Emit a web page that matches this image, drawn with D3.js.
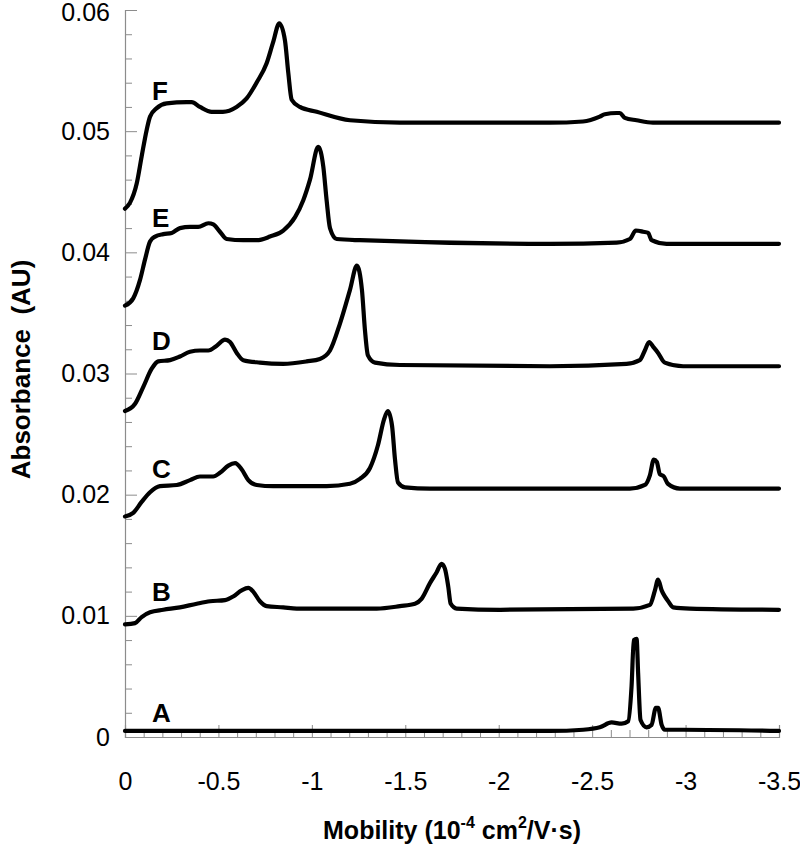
<!DOCTYPE html>
<html>
<head>
<meta charset="utf-8">
<script src="https://cdn.jsdelivr.net/npm/d3@7"></script>
<style>
  html, body { margin: 0; padding: 0; background: #fff; }
  text { font-family: "Liberation Sans", Arial, sans-serif; }
</style>
</head>
<body>
<div id="chart"></div>
<script>
// electropherograms, [mobility (10^-4 cm2/V.s), absorbance (AU)]
const traceA = [
  [0, 0.0005], [-0.5, 0.0005], [-1.0, 0.0005], [-1.5, 0.0005], [-2.0, 0.0005], [-2.274, 0.0005],
  [-2.452, 0.0006], [-2.541, 0.0008], [-2.604, 0.0012], [-2.658, 0.0011], [-2.693, 0.0013],
  [-2.711, 0.0042], [-2.723, 0.0080], [-2.738, 0.0081], [-2.746, 0.0053], [-2.759, 0.0014],
  [-2.791, 0.0008], [-2.818, 0.0010], [-2.841, 0.0024], [-2.853, 0.0024], [-2.872, 0.0010],
  [-2.889, 0.0006], [-2.987, 0.0006], [-3.5, 0.0005]
]
const traceB = [
  [0, 0.0093], [-0.054, 0.0094], [-0.089, 0.0099], [-0.134, 0.0103], [-0.205, 0.0105],
  [-0.294, 0.0107], [-0.384, 0.0110], [-0.455, 0.0112], [-0.535, 0.0113], [-0.579, 0.0116],
  [-0.624, 0.0121], [-0.660, 0.0123], [-0.686, 0.0120], [-0.722, 0.0112], [-0.758, 0.0108],
  [-0.847, 0.0107], [-0.919, 0.0106], [-1.150, 0.0106], [-1.347, 0.0106], [-1.471, 0.0108],
  [-1.552, 0.0110], [-1.587, 0.0114], [-1.632, 0.0127], [-1.668, 0.0136], [-1.694, 0.0143],
  [-1.712, 0.0139], [-1.730, 0.0124], [-1.743, 0.0110], [-1.775, 0.0106], [-2.006, 0.0105],
  [-2.720, 0.0106], [-2.809, 0.0109], [-2.836, 0.0121], [-2.853, 0.0130], [-2.872, 0.0121],
  [-2.889, 0.0116], [-2.907, 0.0112], [-2.934, 0.0107], [-3.023, 0.0106], [-3.5, 0.0105]
]
const traceC = [
  [0, 0.0182], [-0.044, 0.0185], [-0.089, 0.0194], [-0.134, 0.0202], [-0.187, 0.0207],
  [-0.277, 0.0208], [-0.348, 0.0212], [-0.401, 0.0215], [-0.472, 0.0215], [-0.508, 0.0218],
  [-0.553, 0.0224], [-0.589, 0.0226], [-0.624, 0.0221], [-0.660, 0.0212], [-0.705, 0.0208],
  [-0.793, 0.0207], [-1.079, 0.0207], [-1.204, 0.0209], [-1.257, 0.0213], [-1.311, 0.0222],
  [-1.354, 0.0241], [-1.386, 0.0262], [-1.407, 0.0269], [-1.429, 0.0257], [-1.445, 0.0229],
  [-1.461, 0.0210], [-1.498, 0.0206], [-1.632, 0.0205], [-2.274, 0.0205], [-2.702, 0.0205],
  [-2.782, 0.0208], [-2.809, 0.0216], [-2.830, 0.0229], [-2.846, 0.0227], [-2.862, 0.0217],
  [-2.884, 0.0215], [-2.905, 0.0209], [-2.970, 0.0205], [-3.5, 0.0205]
]
const traceD = [
  [0, 0.0269], [-0.054, 0.0275], [-0.098, 0.0289], [-0.143, 0.0304], [-0.178, 0.0310],
  [-0.241, 0.0311], [-0.294, 0.0314], [-0.348, 0.0318], [-0.401, 0.0319], [-0.446, 0.0319],
  [-0.491, 0.0323], [-0.535, 0.0328], [-0.562, 0.0326], [-0.598, 0.0317], [-0.633, 0.0311],
  [-0.722, 0.0309], [-0.847, 0.0308], [-0.972, 0.0310], [-1.043, 0.0312], [-1.097, 0.0319],
  [-1.150, 0.0341], [-1.204, 0.0369], [-1.241, 0.0389], [-1.268, 0.0369], [-1.284, 0.0336],
  [-1.300, 0.0315], [-1.338, 0.0309], [-1.471, 0.0307], [-2.274, 0.0306], [-2.684, 0.0308],
  [-2.755, 0.0311], [-2.782, 0.0319], [-2.805, 0.0326], [-2.827, 0.0322], [-2.853, 0.0317],
  [-2.889, 0.0309], [-2.987, 0.0306], [-3.5, 0.0306]
]
const traceE = [
  [0, 0.0356], [-0.044, 0.0362], [-0.080, 0.0377], [-0.107, 0.0394], [-0.134, 0.0409],
  [-0.161, 0.0413], [-0.205, 0.0415], [-0.250, 0.0416], [-0.294, 0.0420], [-0.348, 0.0421],
  [-0.392, 0.0421], [-0.446, 0.0424], [-0.473, 0.0423], [-0.508, 0.0417], [-0.544, 0.0411],
  [-0.633, 0.0410], [-0.705, 0.0410], [-0.776, 0.0413], [-0.847, 0.0418], [-0.910, 0.0429],
  [-0.954, 0.0443], [-0.990, 0.0460], [-1.034, 0.0487], [-1.061, 0.0471], [-1.079, 0.0443],
  [-1.097, 0.0420], [-1.133, 0.0411], [-1.257, 0.0410], [-2.274, 0.0407], [-2.631, 0.0408],
  [-2.702, 0.0411], [-2.734, 0.0418], [-2.773, 0.0417], [-2.800, 0.0416], [-2.818, 0.0410],
  [-2.898, 0.0407], [-3.5, 0.0407]
]
const traceF = [
  [0, 0.0436], [-0.027, 0.0441], [-0.063, 0.0457], [-0.089, 0.0479], [-0.116, 0.0501],
  [-0.134, 0.0512], [-0.170, 0.0519], [-0.223, 0.0523], [-0.330, 0.0524], [-0.357, 0.0524],
  [-0.401, 0.0520], [-0.464, 0.0516], [-0.524, 0.0516], [-0.597, 0.0520], [-0.651, 0.0527],
  [-0.704, 0.0540], [-0.758, 0.0556], [-0.792, 0.0573], [-0.826, 0.0589], [-0.856, 0.0575],
  [-0.874, 0.0548], [-0.892, 0.0526], [-0.936, 0.0520], [-1.026, 0.0516], [-1.204, 0.0509],
  [-1.471, 0.0507], [-2.006, 0.0507], [-2.274, 0.0507], [-2.451, 0.0508], [-2.541, 0.0512],
  [-2.568, 0.0514], [-2.631, 0.0515], [-2.648, 0.0515], [-2.675, 0.0511], [-2.738, 0.0509],
  [-2.825, 0.0507], [-3.5, 0.0507]
]
const traces = [traceA, traceB, traceC, traceD, traceE, traceF]

// trace letters, placed at [mobility, absorbance] of the text baseline
const labelNames = ['A', 'B', 'C', 'D', 'E', 'F']
const labelPos = [
  [-0.145, 0.0012], [-0.145, 0.0112], [-0.145, 0.0214],
  [-0.145, 0.0319], [-0.145, 0.0421], [-0.145, 0.0526]
]

const xTicks = [0, -0.5, -1, -1.5, -2, -2.5, -3, -3.5]
const xTickLabels = ['0', '-0.5', '-1', '-1.5', '-2', '-2.5', '-3', '-3.5']
const yTicks = [0, 0.01, 0.02, 0.03, 0.04, 0.05, 0.06]
const yTickLabels = ['0', '0.01', '0.02', '0.03', '0.04', '0.05', '0.06']

const width = 800
const height = 847
const margin = { left: 125, right: 21, top: 10, bottom: 110 }
const axisColor = '#8c8c8c'

const svg = d3.select('#chart')
  .append('svg')
  .attr('width', width)
  .attr('height', height)

const x = d3.scaleLinear()
  .domain([0, -3.5])
  .range([margin.left, width - margin.right])
const y = d3.scaleLinear()
  .domain([0, 0.06])
  .range([height - margin.bottom, margin.top])

/**
 * axes: ticks point inward, minor ticks between the labelled ones
 */
const xMinor = d3.range(0, 36).map(i => -i / 10).filter(v => Math.round(v * 10) % 5 !== 0)
const yMinor = d3.range(0, 31).map(i => i * 0.002).filter((v, i) => i % 5 !== 0)

const xAxis = svg.append('g')
  .attr('transform', `translate(0,${y(0)})`)
  .call(d3.axisBottom(x).tickValues(xTicks).tickSize(-12).tickFormat((d, i) => xTickLabels[i]).tickPadding(35))
xAxis.append('g')
  .call(d3.axisBottom(x).tickValues(xMinor).tickSize(-7).tickFormat(''))
  .select('.domain').remove()

const yAxis = svg.append('g')
  .attr('transform', `translate(${x(0)},0)`)
  .call(d3.axisLeft(y).tickValues(yTicks).tickSize(-12).tickFormat((d, i) => yTickLabels[i]).tickPadding(15))
yAxis.append('g')
  .call(d3.axisLeft(y).tickValues(yMinor).tickSize(-7).tickFormat(''))
  .select('.domain').remove()

svg.selectAll('.domain').attr('stroke', axisColor).attr('stroke-width', 1.2)
svg.selectAll('.tick line').attr('stroke', axisColor).attr('stroke-width', 1)
svg.selectAll('.tick text')
  .attr('fill', '#000')
  .style('font-size', '25px')
  .style('font-family', '"Liberation Sans", Arial, sans-serif')

// top label sits right at the page edge, keep it inside
yAxis.selectAll('.tick text')
  .filter(d => d === 0.06)
  .attr('dy', '0.42em')

// traces
const line = d3.line()
  .x(d => x(d[0]))
  .y(d => y(d[1]))
  .curve(d3.curveMonotoneX)

svg.append('g')
  .selectAll('path')
  .data(traces)
  .enter().append('path')
    .attr('d', line)
    .attr('fill', 'none')
    .attr('stroke', '#000')
    .attr('stroke-width', 4.2)
    .attr('stroke-linejoin', 'round')
    .attr('stroke-linecap', 'round')

svg.append('g')
  .selectAll('text')
  .data(labelNames)
  .enter().append('text')
    .attr('x', (d, i) => x(labelPos[i][0]))
    .attr('y', (d, i) => y(labelPos[i][1]))
    .style('font-size', '26px')
    .style('font-weight', 'bold')
    .text(d => d)

// axis titles
const xTitle = svg.append('text')
  .attr('x', (x.range()[0] + x.range()[1]) / 2)
  .attr('y', 839)
  .attr('text-anchor', 'middle')
  .style('font-size', '25px')
  .style('font-weight', 'bold')
xTitle.append('tspan').text('Mobility (10')
xTitle.append('tspan').attr('dy', -11).style('font-size', '16px').text('-4')
xTitle.append('tspan').attr('dy', 11).text(' cm')
xTitle.append('tspan').attr('dy', -11).style('font-size', '16px').text('2')
xTitle.append('tspan').attr('dy', 11).text('/V\u00b7s)')

svg.append('text')
  .attr('transform', `translate(30,${(y.range()[0] + y.range()[1]) / 2 - 4}) rotate(-90)`)
  .attr('text-anchor', 'middle')
  .style('font-size', '26px')
  .style('font-weight', 'bold')
  .style('white-space', 'pre')
  .text('Absorbance  (AU)')
</script>
</body>
</html>
